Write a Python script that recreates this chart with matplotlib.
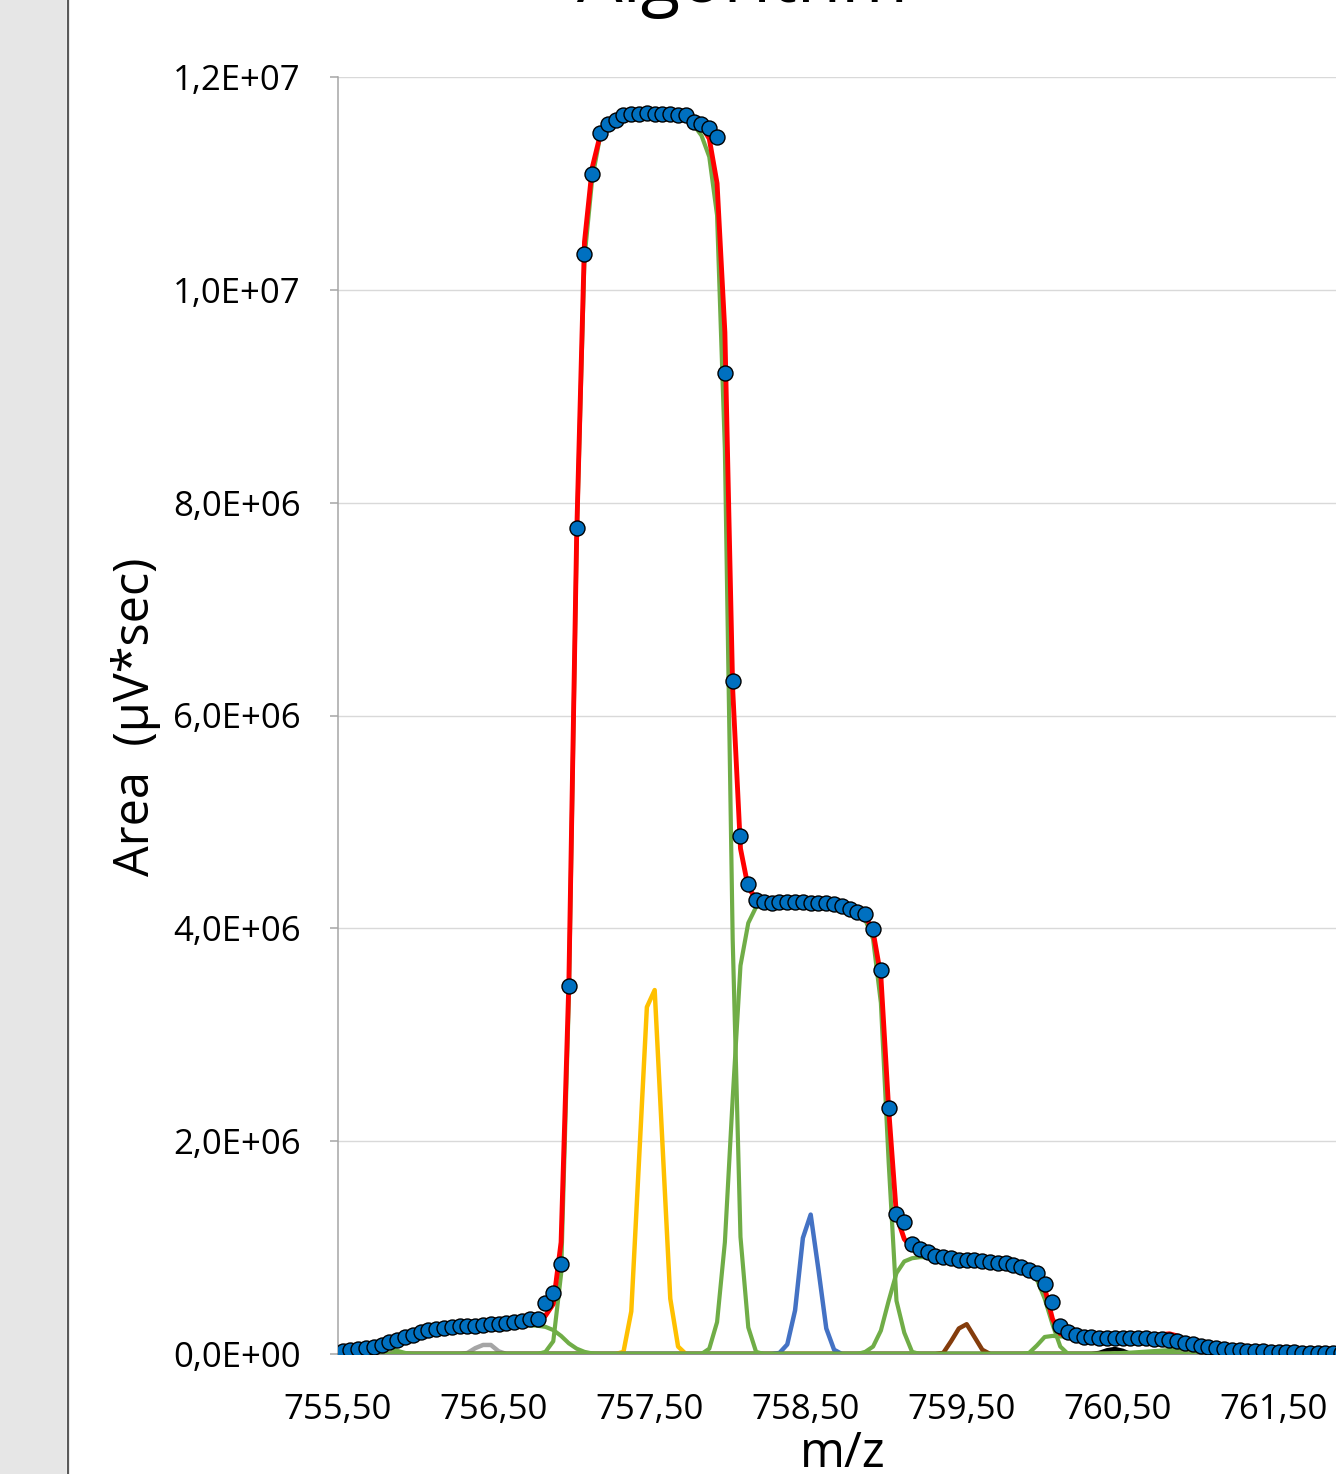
import numpy as np
import matplotlib
matplotlib.use("Agg")
import matplotlib.pyplot as plt
from matplotlib.patches import Rectangle
from matplotlib.lines import Line2D

plt.rcParams["font.family"] = ["Open Sans", "DejaVu Sans"]

# ---- data (areas in units of 1e6 µV*sec) ----
MZ_START = 755.53
MZ_STEP = 0.05

observed = [
    0.028, 0.038, 0.047, 0.056, 0.069, 0.085, 0.110, 0.132, 0.157, 0.182,
    0.204, 0.222, 0.235, 0.247, 0.257, 0.260, 0.263, 0.266, 0.273, 0.279,
    0.285, 0.291, 0.301, 0.313, 0.329, 0.328, 0.482, 0.570, 0.846, 3.46,
    7.76, 10.34, 11.09, 11.47, 11.56, 11.60, 11.64, 11.65, 11.65, 11.66,
    11.65, 11.65, 11.65, 11.64, 11.64, 11.58, 11.56, 11.52, 11.44, 9.22,
    6.32, 4.87, 4.42, 4.27, 4.25, 4.24, 4.245, 4.25, 4.25, 4.245,
    4.24, 4.24, 4.235, 4.226, 4.21, 4.18, 4.15, 4.13, 3.99, 3.61,
    2.31, 1.32, 1.24, 1.03, 0.99, 0.96, 0.92, 0.91, 0.90, 0.886,
    0.883, 0.880, 0.874, 0.868, 0.858, 0.852, 0.839, 0.814, 0.789, 0.764,
    0.658, 0.492, 0.263, 0.204, 0.179, 0.163, 0.157, 0.154, 0.152, 0.152,
    0.149, 0.149, 0.148, 0.147, 0.144, 0.141, 0.132, 0.119, 0.107, 0.094,
    0.078, 0.066, 0.056, 0.047, 0.041, 0.034, 0.031, 0.028, 0.025, 0.022,
    0.019, 0.016, 0.016, 0.013, 0.013, 0.010, 0.010, 0.009, 0.009,
]

fit_total = [
    0.028, 0.038, 0.047, 0.056, 0.069, 0.087, 0.112, 0.137, 0.163, 0.188,
    0.212, 0.232, 0.246, 0.256, 0.262, 0.266, 0.268, 0.270, 0.274, 0.278,
    0.283, 0.288, 0.293, 0.297, 0.298, 0.300, 0.36, 0.47, 1.05, 3.50,
    7.70, 10.45, 11.15, 11.45, 11.56, 11.60, 11.63, 11.64, 11.64, 11.65,
    11.64, 11.64, 11.64, 11.63, 11.62, 11.58, 11.54, 11.42, 11.00, 9.60,
    6.25, 4.75, 4.38, 4.28, 4.25, 4.24, 4.245, 4.25, 4.25, 4.245,
    4.24, 4.24, 4.235, 4.226, 4.22, 4.20, 4.17, 4.12, 3.97, 3.55,
    2.30, 1.30, 1.08, 1.00, 0.97, 0.95, 0.93, 0.915, 0.905, 0.895,
    0.89, 0.885, 0.88, 0.875, 0.868, 0.86, 0.85, 0.83, 0.80, 0.76,
    0.62, 0.33, 0.19, 0.175, 0.17, 0.168, 0.166, 0.166, 0.17, 0.172,
    0.17, 0.166, 0.165, 0.167, 0.172, 0.182, 0.19, 0.17, 0.125, 0.098,
    0.08, 0.067, 0.057, 0.048, 0.041, 0.034, 0.031, 0.028, 0.025, 0.022,
    0.019, 0.016, 0.016, 0.013, 0.013, 0.010, 0.010, 0.009, 0.009,
]

# individual components: (first sample index, values)
green_a = (0, [0.028, 0.038, 0.045, 0.052, 0.058, 0.062, 0.055, 0.030, 0.010, 0.0])
green_b = (3, [0.0, 0.01, 0.025, 0.055, 0.10, 0.145, 0.175, 0.20, 0.22, 0.235,
               0.245, 0.25, 0.255, 0.258, 0.26, 0.262, 0.265, 0.268, 0.27, 0.272,
               0.272, 0.27, 0.265, 0.255, 0.225, 0.17, 0.10, 0.05, 0.02, 0.005, 0.0])
green_c = (25, [0.0, 0.02, 0.12, 0.75, 3.35, 7.65, 10.3, 11.05, 11.44, 11.55,
                11.6, 11.63, 11.64, 11.64, 11.65, 11.64, 11.64, 11.64, 11.63, 11.62,
                11.55, 11.45, 11.25, 10.7, 8.5, 3.9, 1.1, 0.25, 0.02, 0.0])
green_d = (46, [0.0, 0.05, 0.3, 1.05, 2.4, 3.65, 4.05, 4.2, 4.23, 4.23,
                4.235, 4.24, 4.24, 4.235, 4.23, 4.23, 4.225, 4.215, 4.20, 4.17,
                4.13, 4.08, 3.9, 3.3, 1.8, 0.5, 0.2, 0.02, 0.0])
green_e = (66, [0.0, 0.02, 0.07, 0.22, 0.5, 0.76, 0.87, 0.90, 0.91, 0.91,
                0.905, 0.90, 0.895, 0.885, 0.88, 0.88, 0.875, 0.87, 0.86, 0.85,
                0.83, 0.81, 0.78, 0.70, 0.52, 0.28, 0.07, 0.0])
green_f = (87, [0.0, 0.01, 0.08, 0.16, 0.17, 0.165, 0.165, 0.162, 0.16, 0.158,
                0.157, 0.155, 0.15, 0.148, 0.147, 0.147, 0.148, 0.15, 0.152, 0.15,
                0.12, 0.07, 0.04, 0.02, 0.01, 0.0])
green_g = (97, [0.0, 0.003, 0.006, 0.01, 0.013, 0.017, 0.022, 0.027, 0.032, 0.037,
                0.042, 0.045, 0.045, 0.044, 0.043, 0.04, 0.037, 0.034, 0.03, 0.028,
                0.026, 0.024, 0.021, 0.018, 0.016, 0.015, 0.013, 0.012, 0.01, 0.01,
                0.009, 0.009])
gray_peak = (15, [0.0, 0.01, 0.055, 0.085, 0.085, 0.025, 0.0])
yellow_peak = (35, [0.0, 0.02, 0.4, 1.83, 3.26, 3.42, 1.97, 0.52, 0.07, 0.0])
blue_peak = (55, [0.0, 0.01, 0.09, 0.41, 1.09, 1.31, 0.79, 0.24, 0.04, 0.0])
brown_peak = (76, [0.0, 0.01, 0.12, 0.24, 0.28, 0.16, 0.04, 0.0])
black_peak = (96, [0.0, 0.01, 0.035, 0.047, 0.03, 0.0])

x_ticks = [755.5, 756.5, 757.5, 758.5, 759.5, 760.5, 761.5]
x_tick_labels = ["755,50", "756,50", "757,50", "758,50", "759,50", "760,50", "761,50"]
y_ticks = [0, 2e6, 4e6, 6e6, 8e6, 1e7, 1.2e7]
y_tick_labels = ["0,0E+00", "2,0E+06", "4,0E+06", "6,0E+06", "8,0E+06", "1,0E+07", "1,2E+07"]

SCALE = 1e6
n = len(observed)
mz = MZ_START + MZ_STEP * np.arange(n)


def full_series(component):
    start, vals = component
    out = np.zeros(n)
    out[start:start + len(vals)] = vals
    return out * SCALE


# ---- figure ----
W, H = 1336, 1474
fig = plt.figure(figsize=(W / 100, H / 100), dpi=100)
fig.patch.set_facecolor("white")

# grey strip on the left with its dark border
fig.patches.append(Rectangle((0, 0), 66 / W, 1, transform=fig.transFigure,
                             facecolor="#E6E6E6", edgecolor="none", zorder=0))
fig.lines.append(Line2D([67.5 / W, 67.5 / W], [0, 1], transform=fig.transFigure,
                        color="#5A5A5A", linewidth=1.6, zorder=1))

ax_left, ax_right = 338 / W, 1352 / W
ax_bottom, ax_top = (H - 1354) / H, (H - 77) / H
ax = fig.add_axes([ax_left, ax_bottom, ax_right - ax_left, ax_top - ax_bottom])
ax.set_xlim(755.5, 762.0)
ax.set_ylim(0, 1.2e7)

ax.set_yticks(y_ticks)
ax.set_yticklabels(y_tick_labels)
ax.set_xticks(x_ticks)
ax.set_xticklabels(x_tick_labels)
ax.grid(axis="y", color="#D9D9D9", linewidth=1.0, zorder=0)
ax.set_axisbelow(True)

for s in ("top", "right"):
    ax.spines[s].set_visible(False)
ax.spines["left"].set_color("#A6A6A6")
ax.spines["left"].set_linewidth(1.1)
ax.spines["bottom"].set_color("#8C8C8C")
ax.spines["bottom"].set_linewidth(1.4)

ax.tick_params(axis="y", direction="out", length=6, width=1.1, color="#A6A6A6",
               pad=21, labelsize=25, labelcolor="black")
ax.tick_params(axis="x", length=0, pad=28, labelsize=25, labelcolor="black")

# small component peaks
ax.plot(mz, full_series(gray_peak), color="#A5A5A5", lw=3.2, zorder=2)
ax.plot(mz, full_series(black_peak), color="#000000", lw=3.2, zorder=2)
ax.plot(mz, full_series(yellow_peak), color="#FFC000", lw=3.2, zorder=2)
ax.plot(mz, full_series(blue_peak), color="#4472C4", lw=3.2, zorder=2)
ax.plot(mz, full_series(brown_peak), color="#843C0C", lw=3.2, zorder=2)

# isotope-cluster components
for comp in (green_a, green_b, green_c, green_d, green_e, green_f, green_g):
    ax.plot(mz, full_series(comp), color="#70AD47", lw=3.0, zorder=3)

# total fit and measured points
ax.plot(mz, np.array(fit_total) * SCALE, color="#FF0000", lw=3.5, zorder=4)
ax.plot(mz, np.array(observed) * SCALE, linestyle="none", marker="o",
        markersize=10.8, markerfacecolor="#0070C0", markeredgecolor="black",
        markeredgewidth=1.0, zorder=5)

# titles
fig.text(843 / W, (H - 1467) / H, "m/z", ha="center", va="baseline", fontsize=35)
fig.text(136 / W, 1 - 717 / H, "Area  (µV*sec)", rotation=90, ha="center",
         va="center", fontsize=35)
fig.text(743 / W, 1 - 2 / H, "Algorithm", ha="center", va="baseline", fontsize=52)

fig.savefig("out.png", dpi=100)
